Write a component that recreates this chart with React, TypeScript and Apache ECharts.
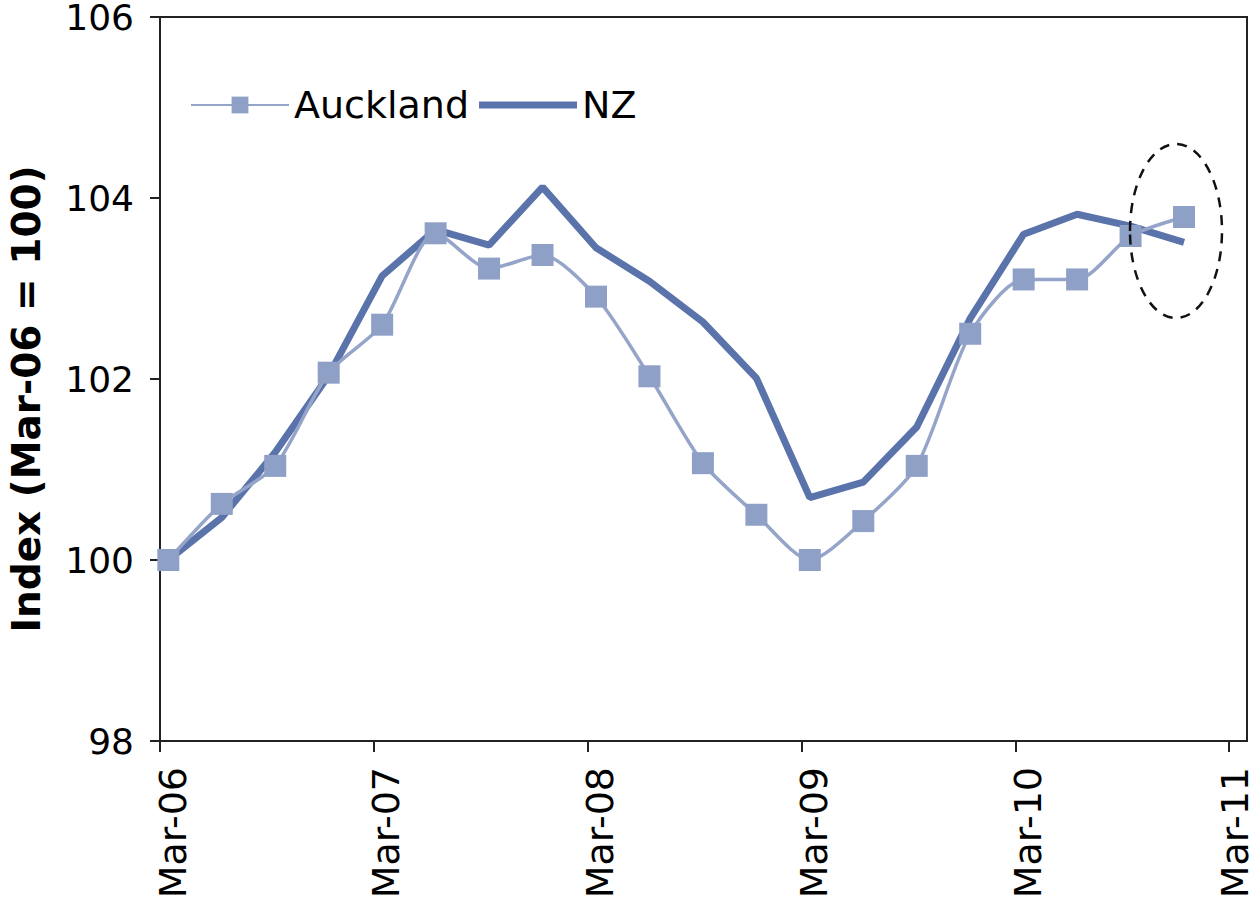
import React, { useEffect, useRef } from "react";
import * as echarts from "echarts";

const dates = [
  "2006-03-15", "2006-06-15", "2006-09-15", "2006-12-15",
  "2007-03-15", "2007-06-15", "2007-09-15", "2007-12-15",
  "2008-03-15", "2008-06-15", "2008-09-15", "2008-12-15",
  "2009-03-15", "2009-06-15", "2009-09-15", "2009-12-15",
  "2010-03-15", "2010-06-15", "2010-09-15", "2010-12-15",
];

const auckland = [
  100.0, 100.62, 101.04, 102.07, 102.6, 103.61, 103.22, 103.37, 102.91, 102.03,
  101.07, 100.5, 100.0, 100.43, 101.04, 102.5, 103.1, 103.1, 103.58, 103.79,
];

const nz = [
  100.0, 100.47, 101.19, 102.04, 103.14, 103.65, 103.48, 104.12, 103.45, 103.08,
  102.63, 102.01, 100.69, 100.86, 101.47, 102.67, 103.6, 103.82, 103.69, 103.51,
];

const tickLabels = ["Mar-06", "Mar-07", "Mar-08", "Mar-09", "Mar-10", "Mar-11"];

const FONT = "DejaVu Sans, Verdana, sans-serif";

// months elapsed since 1 March 2006
function monthsSinceStart(d: string): number {
  const [y, m, day] = d.split("-").map(Number);
  return (y - 2006) * 12 + (m - 3) + (day - 1) / 30;
}

export default function App() {
  const ref = useRef<HTMLDivElement>(null);

  useEffect(() => {
    if (!ref.current) return;
    const chart = echarts.init(ref.current, undefined, { renderer: "svg" });
    const xs = dates.map(monthsSinceStart);
    const tickValues = tickLabels.map((_, i) => i * 12);
    const lastIdx = tickLabels.length - 1;

    chart.setOption({
      animation: false,
      backgroundColor: "#ffffff",
      grid: {
        left: 160,
        top: 17,
        width: 1087,
        height: 724,
        containLabel: false,
        outerBoundsMode: "none",
        show: true,
        borderColor: "#222",
        borderWidth: 2,
        backgroundColor: "transparent",
      },
      legend: {
        left: 185,
        top: 81,
        itemWidth: 98,
        itemHeight: 21,
        itemGap: 10,
        textStyle: {
          fontFamily: FONT,
          fontSize: 38,
          color: "#000",
        },
        data: [
          { name: "Auckland" },
          { name: "NZ", icon: "path://M0,0H98V7H0Z" },
        ],
      },
      xAxis: {
        type: "value",
        min: 0,
        max: 61,
        interval: 12,
        axisLine: { show: true, lineStyle: { color: "#222", width: 2 } },
        axisTick: {
          show: true,
          length: 11,
          customValues: tickValues,
          lineStyle: { color: "#222", width: 2 },
        },
        splitLine: { show: false },
        axisLabel: {
          customValues: tickValues,
          rotate: 90,
          margin: 26,
          fontFamily: FONT,
          fontSize: 38,
          color: "#000",
          verticalAlign: "top",
          lineHeight: 25,
          formatter: (v: number) => {
            const i = Math.round(v / 12);
            const t = tickLabels[i] ?? "";
            return i === lastIdx ? `{e|${t}}` : t;
          },
          rich: {
            e: {
              fontFamily: FONT,
              fontSize: 38,
              color: "#000",
              lineHeight: 12,
            },
          },
        },
      },
      yAxis: {
        type: "value",
        min: 98,
        max: 106,
        interval: 2,
        name: "Index (Mar-06 = 100)",
        nameLocation: "middle",
        nameRotate: 90,
        nameGap: 114,
        nameTextStyle: {
          fontFamily: FONT,
          fontSize: 39,
          fontWeight: "bold",
          color: "#000",
          padding: [0, 40, 0, 0],
        },
        axisLine: { show: true, lineStyle: { color: "#222", width: 2 } },
        axisTick: { show: true, length: 10, lineStyle: { color: "#222", width: 2 } },
        splitLine: { show: false },
        axisLabel: {
          margin: 26,
          fontFamily: FONT,
          fontSize: 36,
          lineHeight: 30,
          color: "#000",
        },
      },
      series: [
        {
          name: "NZ",
          type: "line",
          data: xs.map((x, i) => [x, nz[i]]),
          symbol: "none",
          showSymbol: false,
          lineStyle: { color: "#5b73ab", width: 7 },
          itemStyle: { color: "#5b73ab" },
          z: 2,
        },
        {
          name: "Auckland",
          type: "line",
          data: xs.map((x, i) => [x, auckland[i]]),
          smooth: 0.25,
          symbol: "rect",
          symbolSize: 22,
          lineStyle: { color: "#95a4c9", width: 3.5 },
          itemStyle: { color: "#8fa0c7" },
          z: 3,
        },
      ],
      graphic: [
        {
          type: "ellipse",
          shape: { cx: 1176, cy: 231, rx: 46, ry: 87 },
          style: {
            fill: "none",
            stroke: "#111",
            lineWidth: 2.5,
            lineDash: [10, 8],
          },
          z: 10,
        },
      ],
    });

    return () => chart.dispose();
  }, []);

  return (
    <div
      ref={ref}
      style={{ position: "absolute", left: 0, top: 0, width: 1253, height: 908 }}
    />
  );
}
